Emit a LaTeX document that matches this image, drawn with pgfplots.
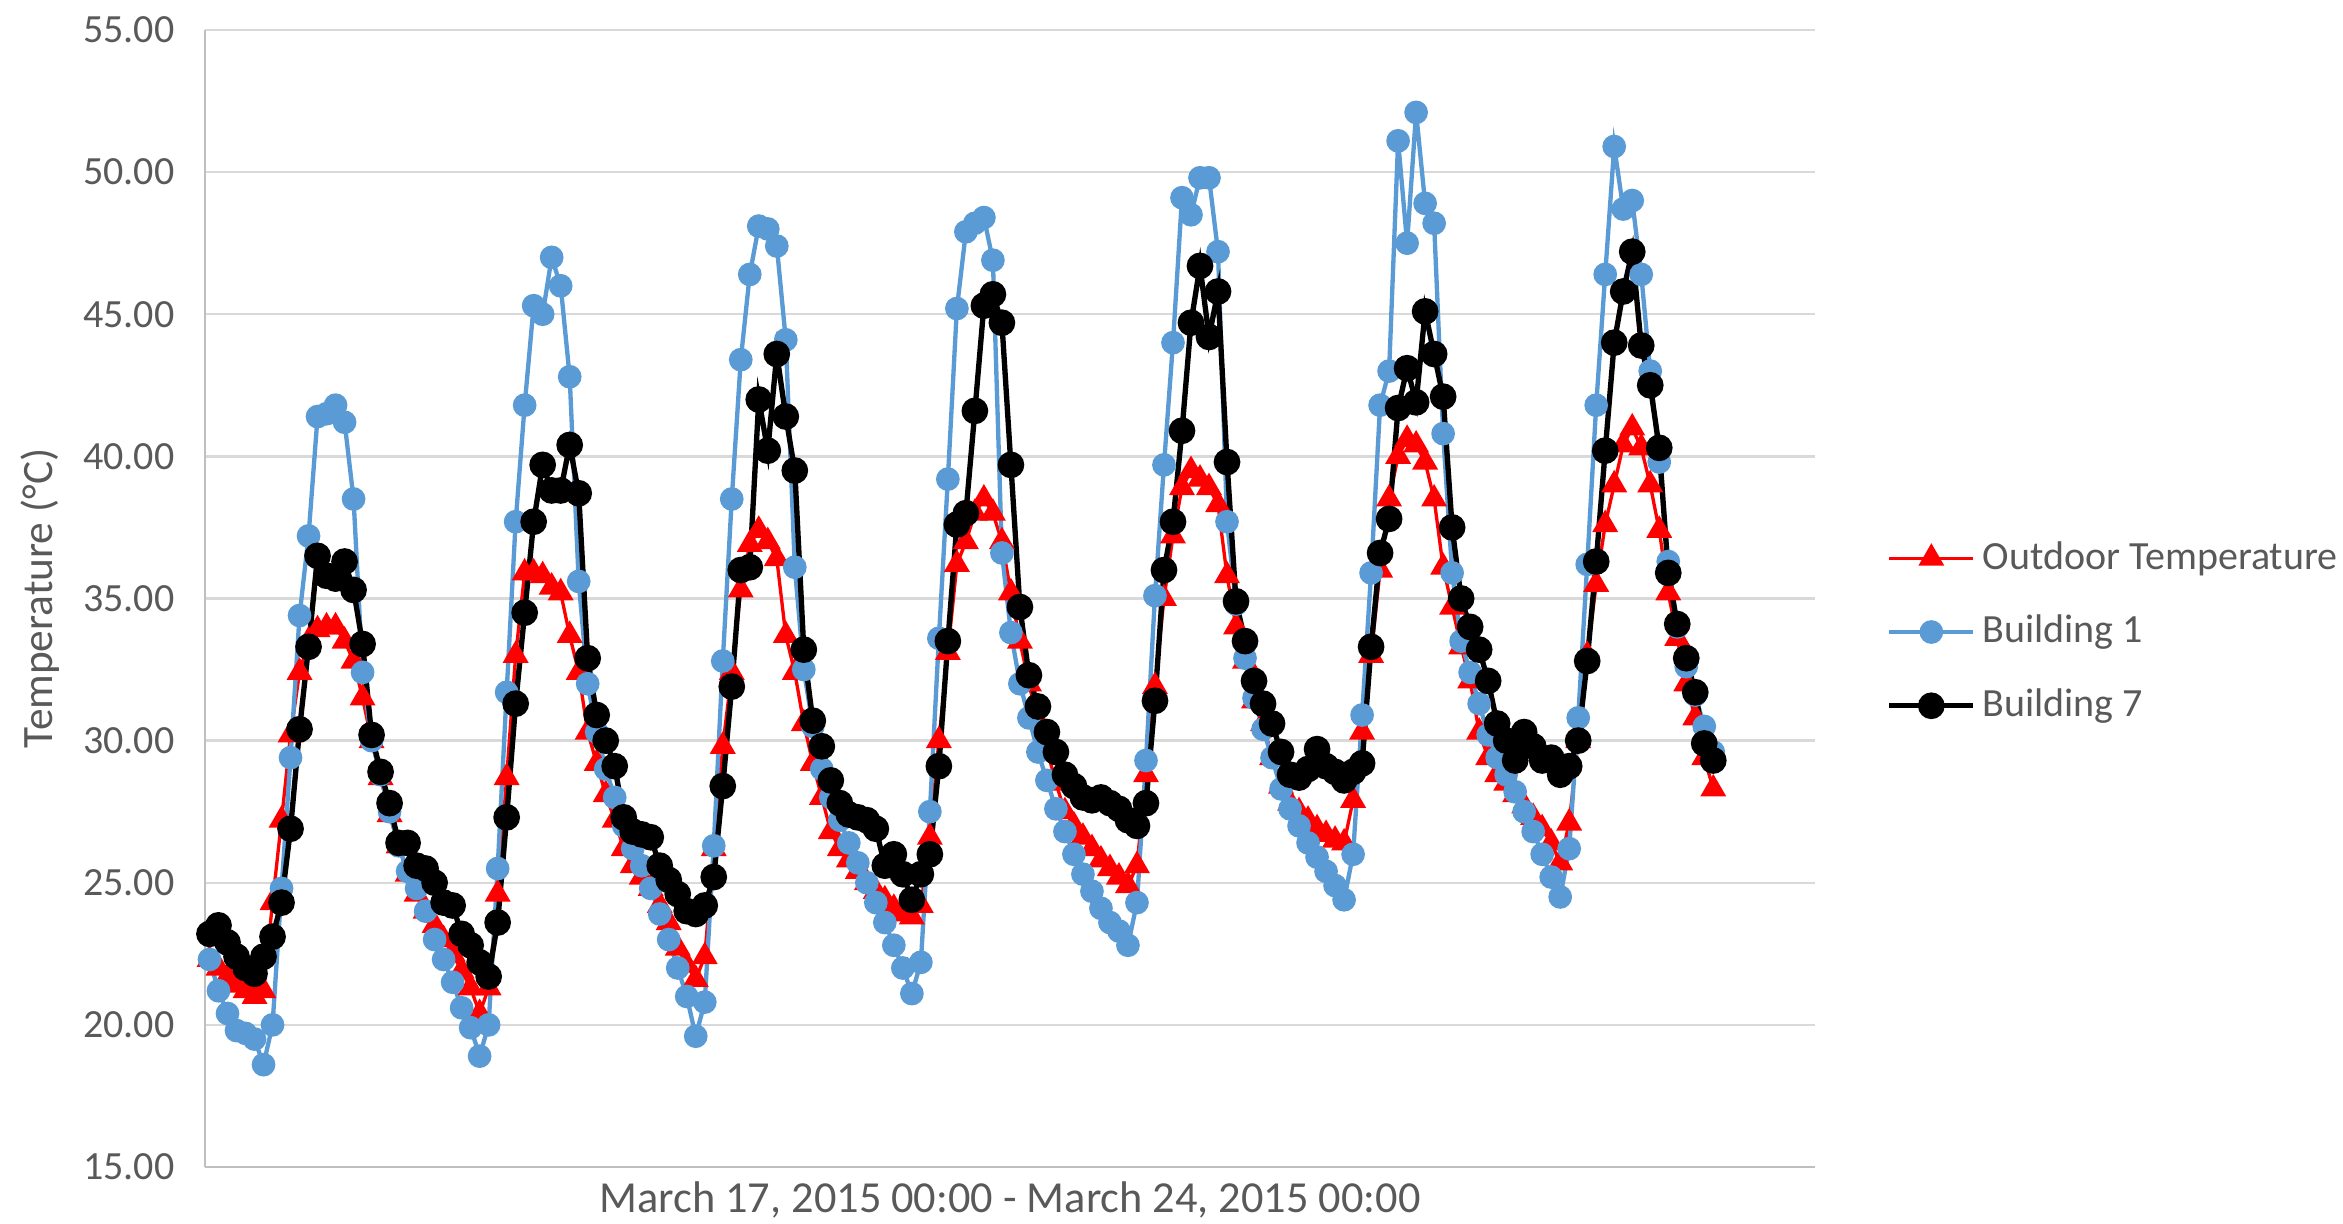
\documentclass[border=0pt]{standalone}
\usepackage{fontspec}
\setmainfont{Carlito}
\usepackage{pgfplots}
\usepackage{pgfplotstable}
\pgfplotsset{compat=1.18}

\definecolor{outdoor}{RGB}{255,0,0}
\definecolor{bldone}{RGB}{91,155,213}
\definecolor{txtgray}{RGB}{89,89,89}
\definecolor{gridgray}{RGB}{217,217,217}
\definecolor{axisgray}{RGB}{191,191,191}

% hourly readings, March 17 00:00 to March 23 23:00
% h = hour index, out = outdoor, b1 = Building 1, b7 = Building 7
\pgfplotstableread{
h out b1 b7
0 22.3 22.3 23.2
1 22.0 21.2 23.5
2 21.7 20.4 22.9
3 21.4 19.8 22.4
4 21.2 19.7 22.0
5 21.0 19.5 21.8
6 21.2 18.6 22.4
7 24.3 20.0 23.1
8 27.2 24.8 24.3
9 30.2 29.4 26.9
10 32.4 34.4 30.4
11 33.5 37.2 33.3
12 33.9 41.4 36.5
13 34.0 41.5 35.8
14 34.0 41.8 35.7
15 33.5 41.2 36.3
16 32.8 38.5 35.3
17 31.5 32.4 33.4
18 30.0 30.0 30.2
19 28.7 28.8 28.9
20 27.4 27.5 27.8
21 26.3 26.3 26.4
22 25.3 25.4 26.4
23 24.6 24.8 25.6
24 24.0 24.0 25.5
25 23.5 23.0 25.0
26 23.0 22.3 24.3
27 22.5 21.5 24.2
28 21.9 20.6 23.2
29 21.3 19.9 22.8
30 20.4 18.9 22.2
31 21.3 20.0 21.7
32 24.6 25.5 23.6
33 28.7 31.7 27.3
34 33.0 37.7 31.3
35 35.9 41.8 34.5
36 35.9 45.3 37.7
37 35.8 45.0 39.7
38 35.4 47.0 38.8
39 35.2 46.0 38.8
40 33.7 42.8 40.4
41 32.4 35.6 38.7
42 30.3 32.0 32.9
43 29.2 30.3 30.9
44 28.1 29.0 30.0
45 27.2 28.0 29.1
46 26.2 27.0 27.3
47 25.6 26.2 26.8
48 25.2 25.6 26.7
49 24.8 24.8 26.6
50 24.2 23.9 25.6
51 23.6 23.0 25.1
52 22.7 22.0 24.6
53 22.1 21.0 24.0
54 21.6 19.6 23.9
55 22.4 20.8 24.2
56 26.2 26.3 25.2
57 29.8 32.8 28.4
58 32.4 38.5 31.9
59 35.3 43.4 36.0
60 36.9 46.4 36.1
61 37.4 48.1 42.0
62 37.0 48.0 40.2
63 36.4 47.4 43.6
64 33.7 44.1 41.4
65 32.4 36.1 39.5
66 30.6 32.5 33.2
67 29.2 30.5 30.7
68 28.0 29.0 29.8
69 26.8 28.0 28.6
70 26.2 27.2 27.8
71 25.8 26.4 27.4
72 25.4 25.7 27.3
73 25.0 25.0 27.2
74 24.7 24.3 26.9
75 24.4 23.6 25.6
76 24.1 22.8 26.0
77 23.9 22.0 25.3
78 23.8 21.1 24.4
79 24.2 22.2 25.3
80 26.6 27.5 26.0
81 30.0 33.6 29.1
82 33.1 39.2 33.5
83 36.2 45.2 37.6
84 37.0 47.9 38.0
85 38.0 48.2 41.6
86 38.5 48.4 45.3
87 38.0 46.9 45.7
88 37.0 36.6 44.7
89 35.2 33.8 39.7
90 33.5 32.0 34.7
91 32.0 30.8 32.3
92 30.7 29.6 31.2
93 29.7 28.6 30.3
94 28.5 27.6 29.6
95 27.5 26.8 28.8
96 27.0 26.0 28.4
97 26.6 25.3 28.0
98 26.2 24.7 27.9
99 25.8 24.1 28.0
100 25.5 23.6 27.8
101 25.2 23.3 27.6
102 24.9 22.8 27.2
103 25.6 24.3 27.0
104 28.8 29.3 27.8
105 31.9 35.1 31.4
106 35.0 39.7 36.0
107 37.2 44.0 37.7
108 38.9 49.1 40.9
109 39.5 48.5 44.7
110 39.2 49.8 46.7
111 38.9 49.8 44.2
112 38.3 47.2 45.8
113 35.8 37.7 39.8
114 34.0 34.8 34.9
115 32.8 32.9 33.5
116 31.4 31.5 32.1
117 30.6 30.4 31.3
118 29.4 29.4 30.6
119 28.4 28.3 29.6
120 27.8 27.6 28.8
121 27.5 27.0 28.7
122 27.2 26.4 29.0
123 26.9 25.9 29.7
124 26.7 25.4 29.1
125 26.5 24.9 28.9
126 26.4 24.4 28.6
127 27.9 26.0 28.9
128 30.3 30.9 29.2
129 33.0 35.9 33.3
130 36.0 41.8 36.6
131 38.5 43.0 37.8
132 40.0 51.1 41.7
133 40.6 47.5 43.1
134 40.4 52.1 41.9
135 39.8 48.9 45.1
136 38.5 48.2 43.6
137 36.1 40.8 42.1
138 34.7 35.9 37.5
139 33.3 33.5 35.0
140 32.1 32.4 34.0
141 30.3 31.3 33.2
142 29.4 30.2 32.1
143 28.8 29.4 30.6
144 28.5 28.8 30.0
145 28.1 28.2 29.3
146 27.7 27.5 30.3
147 27.3 26.8 29.8
148 26.9 26.0 29.3
149 26.4 25.2 29.4
150 25.7 24.5 28.8
151 27.1 26.2 29.1
152 30.0 30.8 30.0
153 33.0 36.2 32.8
154 35.5 41.8 36.3
155 37.6 46.4 40.2
156 39.0 50.9 44.0
157 40.4 48.7 45.8
158 41.0 49.0 47.2
159 40.3 46.4 43.9
160 39.0 43.0 42.5
161 37.4 39.8 40.3
162 35.2 36.3 35.9
163 33.6 34.0 34.1
164 32.0 32.6 32.9
165 30.8 31.6 31.7
166 29.4 30.5 29.9
167 28.3 29.6 29.3
}\temps

\begin{document}
\fontsize{12}{14}\selectfont
\begin{tikzpicture}
\begin{axis}[
    scale only axis,
    width=483pt,
    height=341.1pt,
    xmin=-0.5, xmax=178.3,
    ymin=15, ymax=55,
    ytick={15,20,...,55},
    xtick=\empty,
    ymajorgrids,
    grid style={gridgray, line width=0.7pt},
    axis x line*=bottom,
    axis y line*=left,
    axis line style={axisgray, line width=0.7pt, -},
    major tick length=0pt,
    /pgf/number format/assume math mode=true,
    yticklabel style={/pgf/number format/fixed, /pgf/number format/fixed zerofill,
        /pgf/number format/precision=2, text=txtgray, xshift=-5pt,
        font=\fontsize{12}{14}\selectfont},
    ylabel={Temperature (°C)},
    ylabel style={at={(axis description cs:-0.1025,0.5)}, anchor=center,
        text=txtgray, font=\fontsize{13}{15}\selectfont},
    xlabel={March 17, 2015 00:00 - March 24, 2015 00:00},
    xlabel style={at={(axis description cs:0.5,-0.0288)}, anchor=center,
        text=txtgray, font=\fontsize{13.3}{15}\selectfont},
    legend style={draw=none, fill=none, inner sep=0pt,
        at={(axis description cs:1.0441,0.4705)}, anchor=west,
        row sep=8pt, font=\fontsize{12}{14}\selectfont,
        nodes={text=txtgray}},
    legend cell align=left,
    legend image code/.code={\draw[mark repeat=2,mark phase=2,#1]
        plot coordinates {(0pt,0pt)(12.6pt,0pt)(25.2pt,0pt)};},
]
\addplot[color=outdoor, line width=1.0pt, mark=triangle*, mark size=3.5pt,
    mark options={solid, fill=outdoor}] table[x=h, y=out] {\temps};
\addlegendentry{Outdoor Temperature}
\addplot[color=bldone, line width=1.3pt, mark=*, mark size=2.9pt,
    mark options={solid, fill=bldone}] table[x=h, y=b1] {\temps};
\addlegendentry{Building 1}
\addplot[color=black, line width=1.6pt, mark=*, mark size=3.2pt,
    mark options={solid, fill=black}] table[x=h, y=b7] {\temps};
\addlegendentry{Building 7}
\coordinate (sw) at (rel axis cs:0,0);
\coordinate (ne) at (rel axis cs:1,1);
\end{axis}
\pgfresetboundingbox
\path ([shift={(-61.5pt,-17.1pt)}]sw) rectangle ([shift={(158.4pt,9pt)}]ne);
\end{tikzpicture}
\end{document}
